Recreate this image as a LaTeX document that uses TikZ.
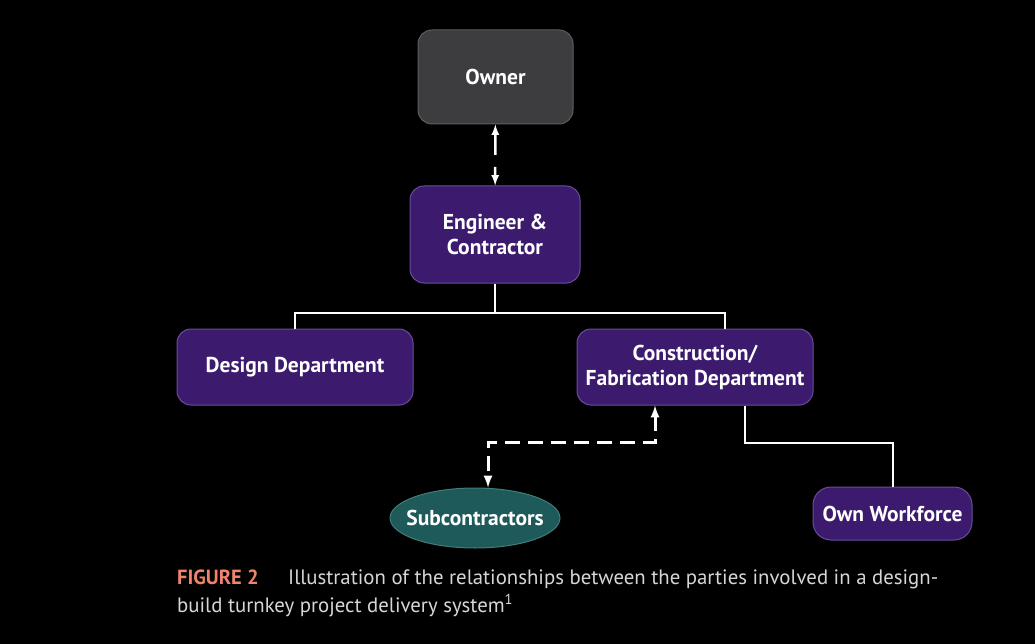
\documentclass[tikz,border=0pt]{standalone}
\usepackage{fontspec}
\setmainfont{PT Sans}
\usetikzlibrary{shapes.geometric, arrows}
\definecolor{boxfill}{HTML}{3C1B6E}
\definecolor{boxline}{HTML}{6B4C9C}
\definecolor{ownerfill}{HTML}{3D3C3F}
\definecolor{ownerline}{HTML}{5E5D60}
\definecolor{subfill}{HTML}{1E5A5A}
\definecolor{subline}{HTML}{3F7D7C}
\definecolor{capred}{HTML}{F0846A}
\definecolor{captext}{HTML}{D6D6D6}

\begin{document}
\begin{tikzpicture}[x=1pt,y=-1pt,
	box/.style={draw=boxline,fill=boxfill,rounded corners=14pt,line width=1pt,text=white,align=center,inner sep=0pt,font=\bfseries\fontsize{21.5}{25}\selectfont},
	link/.style={draw=white,line width=2pt},
	dlink/.style={draw=white,line width=3pt,dash pattern=on 15pt off 8pt,latex-latex}]
	\fill[black] (0,0) rectangle (1035,644);
	\node[box,fill=ownerfill,draw=ownerline,minimum width=155pt,minimum height=94pt] (owner) at (495.5,77) {Owner};
	\node[box,minimum width=170pt,minimum height=97pt] (eng) at (495,234.5) {Engineer \&\\Contractor};
	\node[box,minimum width=236pt,minimum height=76pt] (design) at (295,367) {Design Department};
	\node[box,minimum width=236pt,minimum height=76pt] (cons) at (695,367) {Construction/\\Fabrication Department};
	\node[box,ellipse,fill=subfill,draw=subline,inner xsep=-12pt,minimum width=170pt,minimum height=60pt] (sub) at (475,518) {Subcontractors};
	\node[box,rounded corners=18pt,minimum width=159pt,minimum height=53pt] (own) at (892.5,513.5) {Own Workforce};
	\coordinate (split) at (495,313);
	\draw[dlink,line width=2.5pt,dash pattern=on 21pt off 12pt] (owner) -- (eng);
	\draw[link] (eng) -- (split);
	\draw[link] (design.north) |- (split) -| ([xshift=30pt]cons.north);
	\draw[dlink] ([xshift=-40pt]cons.south) -- ++(0,37) -| ([xshift=13pt]sub.north);
	\draw[link] ([xshift=50pt]cons.south) -- ++(0,37) -| (own.north);
	\node[anchor=base west,inner sep=0pt,text=capred,font=\bfseries\fontsize{20.5}{24}\selectfont] (fig) at (177,584) {FIGURE 2};
	\node[anchor=base west,inner sep=0pt,text=captext,font=\fontsize{20.8}{24}\selectfont] (cap1) at (288,584) {Illustration of the relationships between the parties involved in a design-};
	\node[anchor=base west,inner sep=0pt,text=captext,font=\fontsize{20.8}{24}\selectfont] (cap2) at (177,612) {build turnkey project delivery system\textsuperscript{1}};
\end{tikzpicture}
\end{document}
